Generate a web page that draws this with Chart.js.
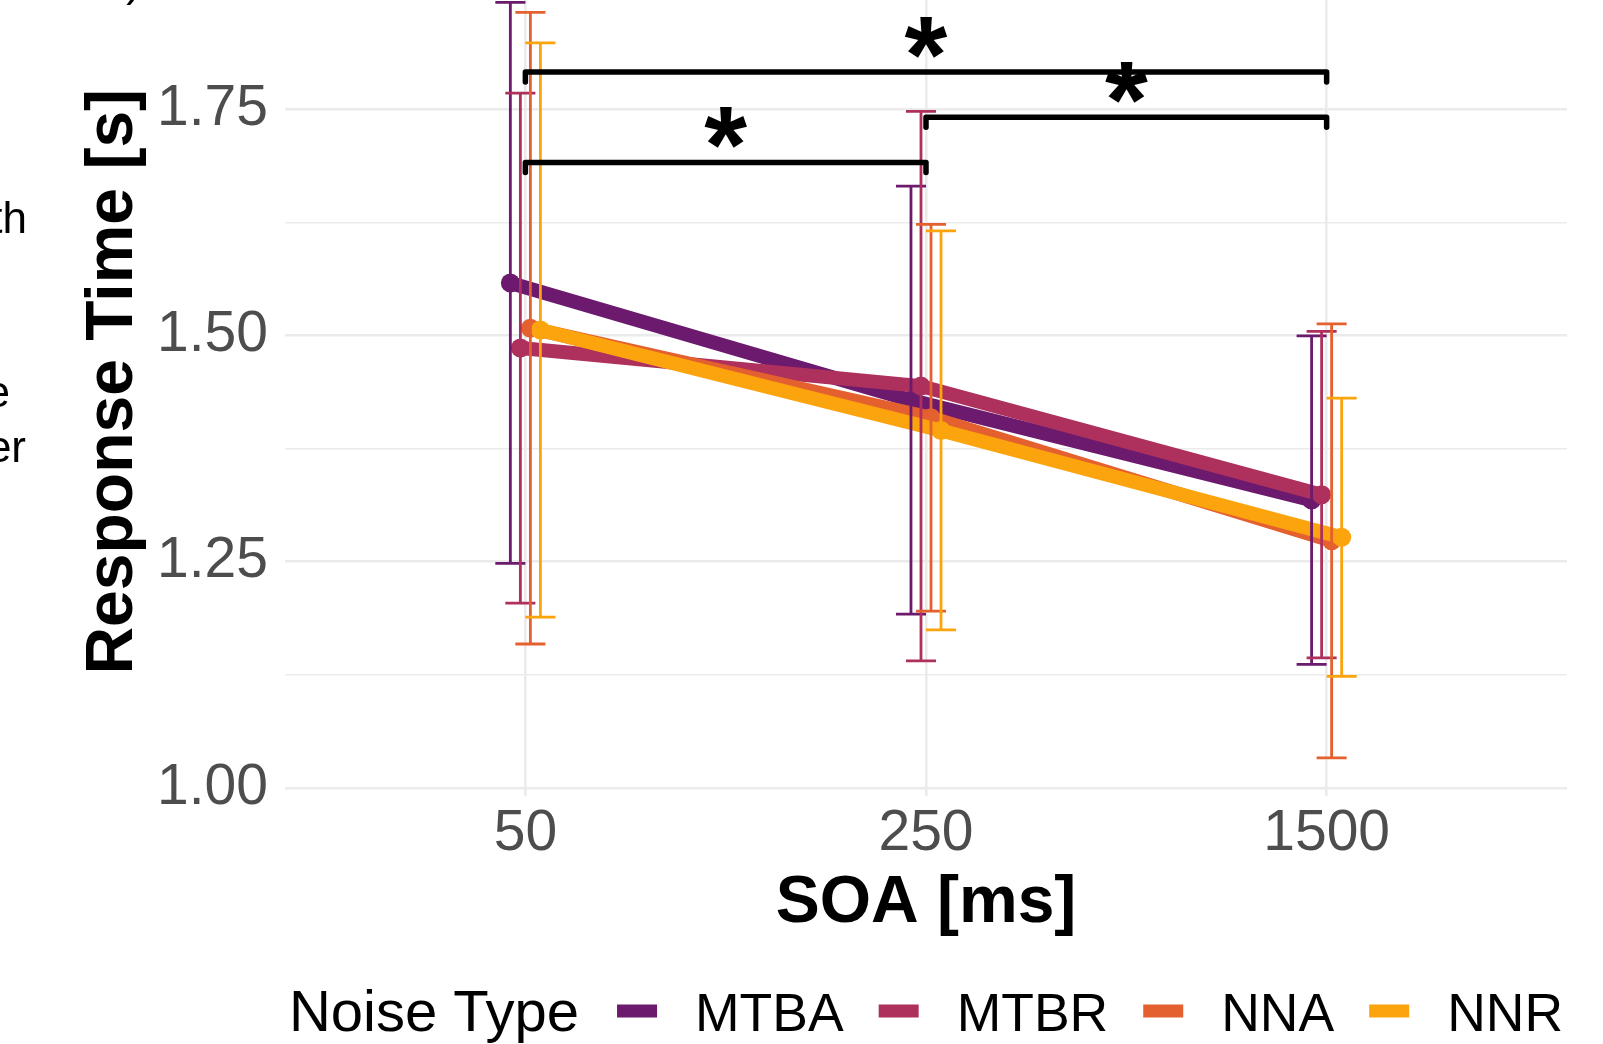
<!DOCTYPE html>
<html>
<head>
<meta charset="utf-8">
<script src="https://cdn.jsdelivr.net/npm/chart.js@4.4.1/dist/chart.umd.min.js"></script>
<style>
  html, body { margin: 0; padding: 0; background: #fff; overflow: hidden; width: 1603px; height: 1044px; }
  /* the panel top is cropped in the original figure, so the canvas starts above the window */
  #wrap { position: absolute; left: 0; top: -42px; width: 1603px; height: 1086px; }
</style>
</head>
<body>
<div id="wrap"><canvas id="rt-chart" width="1603" height="1086"></canvas></div>
<script>
// Data
const soaLabels = ['50', '250', '1500'];
const noiseTypes = ['MTBA', 'MTBR', 'NNA', 'NNR'];
const noiseColors = ['#6B1A6E', '#AE305C', '#E5602F', '#FBA40D'];

const meanMTBA = [1.558, 1.4285, 1.318];
const meanMTBR = [1.486, 1.444, 1.324];
const meanNNA = [1.508, 1.409, 1.273];
const meanNNR = [1.506, 1.395, 1.277];

const sdMTBA = [0.310, 0.2365, 0.1815];
const sdMTBR = [0.2818, 0.3037, 0.1804];
const sdNNA = [0.349, 0.2137, 0.2398];
const sdNNR = [0.3173, 0.2205, 0.1538];

const yMajor = [1.00, 1.25, 1.50, 1.75];
const yMinor = [1.125, 1.375, 1.625, 1.875];

// significance brackets (category index from / to, height)
const sigFrom = [1, 2, 1];
const sigTo = [3, 3, 2];
const sigY = [1.791, 1.741, 1.691];
const sigLabel = ['*', '*', '*'];

const means = [meanMTBA, meanMTBR, meanNNA, meanNNR];
const sds = [sdMTBA, sdMTBR, sdNNA, sdNNR];

const FONT = "'Liberation Sans', Arial, Helvetica, sans-serif";
const CROP = 42; // canvas rows hidden above the window
const dodgeWidth = 0.1;
const dodge = (i) => (i - (noiseTypes.length - 1) / 2) * dodgeWidth / noiseTypes.length;

const datasets = noiseTypes.map((name, i) => ({
  label: name,
  data: means[i].map((v, j) => ({ x: j + 1 + dodge(i), y: v })),
  borderColor: noiseColors[i],
  backgroundColor: noiseColors[i],
  borderWidth: 14,
  pointRadius: 9.5,
  pointBorderWidth: 0,
  pointBackgroundColor: noiseColors[i],
  tension: 0,
  order: noiseTypes.length - i, // later groups on top, like ggplot
}));

// error bars + significance brackets
const annotations = {
  id: 'annotations',
  afterDatasetsDraw(chart) {
    const { ctx, scales: { x, y } } = chart;
    ctx.save();
    ctx.lineCap = 'butt';
    noiseTypes.forEach((name, i) => {
      ctx.strokeStyle = noiseColors[i];
      ctx.lineWidth = 2.8;
      means[i].forEach((m, j) => {
        const xv = j + 1 + dodge(i);
        const px = x.getPixelForValue(xv);
        const x0 = x.getPixelForValue(xv - 0.0375);
        const x1 = x.getPixelForValue(xv + 0.0375);
        const lo = y.getPixelForValue(m - sds[i][j]);
        const hi = y.getPixelForValue(m + sds[i][j]);
        ctx.beginPath();
        ctx.moveTo(px, lo); ctx.lineTo(px, hi);
        ctx.moveTo(x0, lo); ctx.lineTo(x1, lo);
        ctx.moveTo(x0, hi); ctx.lineTo(x1, hi);
        ctx.stroke();
      });
    });

    ctx.strokeStyle = '#000';
    ctx.fillStyle = '#000';
    ctx.lineWidth = 5.5;
    ctx.lineCap = 'round';
    ctx.lineJoin = 'round';
    ctx.font = `bold 110px ${FONT}`;
    ctx.textAlign = 'center';
    ctx.textBaseline = 'alphabetic';
    sigY.forEach((yv, k) => {
      const xa = x.getPixelForValue(sigFrom[k]);
      const xb = x.getPixelForValue(sigTo[k]);
      const py = y.getPixelForValue(yv);
      const tip = y.getPixelForValue(yv - 0.011);
      ctx.beginPath();
      ctx.moveTo(xa, tip); ctx.lineTo(xa, py); ctx.lineTo(xb, py); ctx.lineTo(xb, tip);
      ctx.stroke();
      const m = ctx.measureText(sigLabel[k]);
      const cy = py - 35;
      const base = cy + (m.actualBoundingBoxAscent - m.actualBoundingBoxDescent) / 2;
      ctx.fillText(sigLabel[k], (xa + xb) / 2, base);
    });
    ctx.restore();
  },
  afterDraw(chart) {
    const { ctx, chartArea } = chart;
    ctx.save();
    // legend
    const titleFont = `58px ${FONT}`;
    const itemFont = `53.5px ${FONT}`;
    const keyW = 40, keyH = 13, gapTitle = 38, gapKey = 38, gapItem = 35;
    ctx.font = titleFont;
    const titleW = ctx.measureText('Noise Type').width;
    ctx.font = itemFont;
    const itemW = noiseTypes.map(t => ctx.measureText(t).width);
    let total = titleW + gapTitle;
    itemW.forEach((w, i) => { total += keyW + gapKey + w + (i < itemW.length - 1 ? gapItem : 0); });
    let lx = (chartArea.left + chartArea.right) / 2 - total / 2;
    const baseY = 1031 + CROP;
    const keyY = 1011 + CROP;
    ctx.fillStyle = '#000';
    ctx.textAlign = 'left';
    ctx.textBaseline = 'alphabetic';
    ctx.font = titleFont;
    ctx.fillText('Noise Type', lx, baseY);
    lx += titleW + gapTitle;
    ctx.font = itemFont;
    noiseTypes.forEach((t, i) => {
      ctx.fillStyle = noiseColors[i];
      ctx.fillRect(lx, keyY - keyH / 2, keyW, keyH);
      lx += keyW + gapKey;
      ctx.fillStyle = '#000';
      ctx.fillText(t, lx, baseY);
      lx += itemW[i] + gapItem;
    });

    // fragments of the neighbouring panel text, cut by the crop
    ctx.font = `44px ${FONT}`;
    ctx.textAlign = 'right';
    ctx.fillText(')', 141, -4 + CROP);
    ctx.fillText('th', 27, 233 + CROP);
    ctx.fillText('e', 10, 407 + CROP);
    ctx.fillText('er', 26, 462 + CROP);
    ctx.restore();
  }
};

new Chart(document.getElementById('rt-chart'), {
  type: 'line',
  data: { datasets },
  options: {
    responsive: false,
    animation: false,
    devicePixelRatio: 1,
    layout: {
      padding: { top: 0, left: 0, right: 36, bottom: 88 },
    },
    scales: {
      x: {
        type: 'linear',
        min: 0.4,
        max: 3.6,
        border: { display: false },
        grid: { color: '#EBEBEB', lineWidth: 2.6, drawTicks: false },
        afterBuildTicks: (scale) => { scale.ticks = soaLabels.map((l, i) => ({ value: i + 1 })); },
        afterFit: (scale) => { scale.height = 160; scale.paddingLeft = 0; scale.paddingRight = 0; },
        ticks: {
          padding: 4,
          color: '#4D4D4D',
          font: { family: FONT, size: 57 },
          maxRotation: 0,
          callback: (v) => soaLabels[Math.round(v) - 1],
        },
        title: {
          display: true,
          text: 'SOA [ms]',
          color: '#000',
          font: { family: FONT, size: 66, weight: 'bold' },
          padding: { top: 0, bottom: 13 },
        },
      },
      y: {
        min: 0.991,
        max: 1.9066,
        border: { display: false },
        grid: {
          color: '#EBEBEB',
          lineWidth: (c) => (c.tick && yMajor.includes(c.tick.value) ? 2.6 : 1.4),
          drawTicks: false,
        },
        afterBuildTicks: (scale) => {
          scale.ticks = [...yMajor, ...yMinor].sort((a, b) => a - b).map(v => ({ value: v }));
        },
        afterFit: (scale) => { scale.width = 285; scale.paddingTop = 0; scale.paddingBottom = 0; },
        ticks: {
          padding: 17,
          color: '#4D4D4D',
          font: { family: FONT, size: 57 },
          callback: (v) => (yMajor.includes(v) ? v.toFixed(2) : ''),
        },
        title: {
          display: true,
          text: 'Response Time [s]',
          color: '#000',
          font: { family: FONT, size: 66, weight: 'bold' },
          padding: { top: 74, bottom: 0 },
        },
      },
    },
    plugins: {
      legend: { display: false },
      tooltip: { enabled: false },
    },
  },
  plugins: [annotations],
});
</script>
</body>
</html>
